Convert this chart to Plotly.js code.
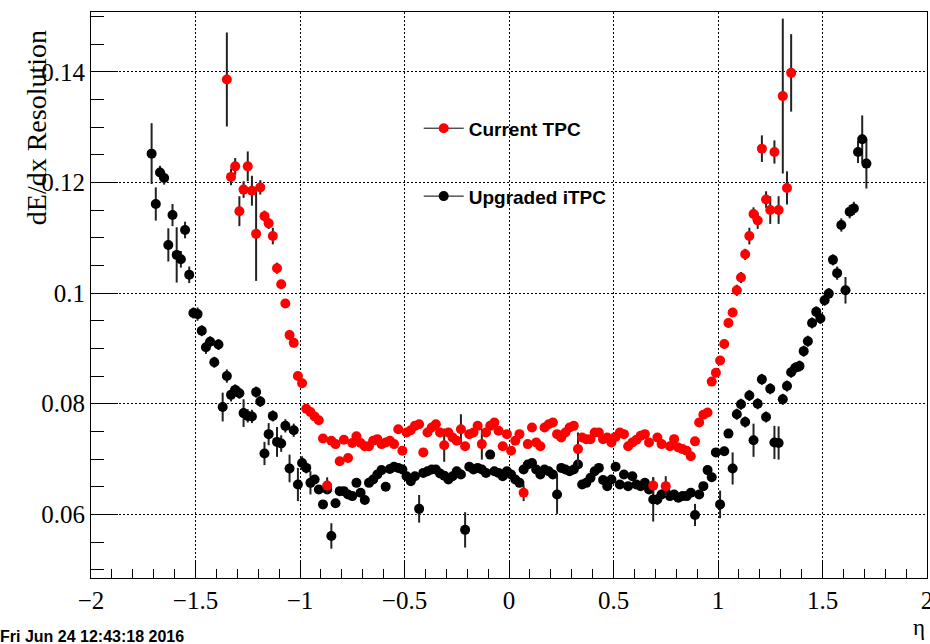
<!DOCTYPE html>
<html>
<head>
<meta charset="utf-8">
<script src="https://cdn.plot.ly/plotly-3.0.1.min.js"></script>
<style>html,body{margin:0;padding:0;background:#fff;}#chart{width:930px;height:644px;}</style>
</head>
<body>
<div id="chart"></div>
<script>
// Upgraded iTPC (black)
const blackEta = [
-1.71,-1.69,-1.67,-1.65,-1.63,-1.61,-1.59,-1.57,-1.55,-1.53,
-1.51,-1.49,-1.47,-1.45,-1.43,-1.41,-1.39,-1.37,-1.35,-1.33,
-1.31,-1.29,-1.27,-1.25,-1.23,-1.21,-1.19,-1.17,-1.15,-1.13,
-1.11,-1.09,-1.07,-1.05,-1.03,-1.01,-0.99,-0.97,-0.95,-0.93,
-0.91,-0.89,-0.87,-0.85,-0.83,-0.81,-0.79,-0.77,-0.75,-0.73,
-0.71,-0.69,-0.67,-0.65,-0.63,-0.61,-0.59,-0.57,-0.55,-0.53,
-0.51,-0.49,-0.47,-0.45,-0.43,-0.41,-0.39,-0.37,-0.35,-0.33,
-0.31,-0.29,-0.27,-0.25,-0.23,-0.21,-0.19,-0.17,-0.15,-0.13,
-0.11,-0.09,-0.07,-0.05,-0.03,-0.01,0.01,0.03,0.05,0.07,
0.09,0.11,0.13,0.15,0.17,0.19,0.21,0.23,0.25,0.27,
0.29,0.31,0.33,0.35,0.37,0.39,0.41,0.43,0.45,0.47,
0.49,0.51,0.53,0.55,0.57,0.59,0.61,0.63,0.65,0.67,
0.69,0.71,0.73,0.75,0.77,0.79,0.81,0.83,0.85,0.87,
0.89,0.91,0.93,0.95,0.97,0.99,1.01,1.03,1.05,1.07,
1.09,1.11,1.13,1.15,1.17,1.19,1.21,1.23,1.25,1.27,
1.29,1.31,1.33,1.35,1.37,1.39,1.41,1.43,1.45,1.47,
1.49,1.51,1.53,1.55,1.57,1.59,1.61,1.63,1.65,1.67,
1.69,1.71];
const blackRes = [
0.1252,0.1161,0.1218,0.1208,0.1087,0.1141,0.1069,0.1061,0.1114,0.1033,
0.0964,0.0962,0.0932,0.0902,0.0912,0.0875,0.0907,0.0794,0.0850,0.0816,
0.0825,0.0819,0.0783,0.0778,0.0777,0.0821,0.0804,0.0710,0.0745,0.0778,
0.0731,0.0728,0.0760,0.0683,0.0752,0.0654,0.0693,0.0684,0.0657,0.0663,
0.0645,0.0618,0.0645,0.0561,0.0620,0.0642,0.0642,0.0636,0.0633,0.0657,
0.0639,0.0626,0.0657,0.0663,0.0672,0.0680,0.0650,0.0682,0.0686,0.0684,
0.0681,0.0669,0.0660,0.0669,0.0610,0.0675,0.0678,0.0681,0.0681,0.0674,
0.0670,0.0663,0.0669,0.0678,0.0672,0.0572,0.0686,0.0681,0.0684,0.0681,
0.0675,0.0708,0.0678,0.0675,0.0669,0.0678,0.0672,0.0663,0.0657,0.0681,
0.0690,0.0693,0.0681,0.0672,0.0681,0.0678,0.0672,0.0636,0.0684,0.0681,
0.0678,0.0681,0.0690,0.0654,0.0657,0.0666,0.0678,0.0684,0.0662,0.0651,
0.0663,0.0686,0.0654,0.0672,0.0651,0.0669,0.0654,0.0651,0.0657,0.0645,
0.0627,0.0627,0.0636,0.0640,0.0633,0.0636,0.0630,0.0633,0.0633,0.0639,
0.0599,0.0636,0.0651,0.0680,0.0667,0.0712,0.0618,0.0714,0.0746,0.0683,
0.0781,0.0799,0.0767,0.0815,0.0734,0.0800,0.0844,0.0776,0.0827,0.0730,
0.0729,0.0808,0.0832,0.0857,0.0865,0.0868,0.0895,0.0913,0.0946,0.0966,
0.0954,0.0987,0.0999,0.1060,0.1036,0.1123,0.1005,0.1147,0.1153,0.1255,
0.1278,0.1234];
const blackErr = [
0.0055,0.0030,0.0012,0.0012,0.0030,0.0020,0.0050,0.0015,0.0015,0.0015,
0.0010,0.0012,0.0010,0.0012,0.0010,0.0010,0.0010,0.0026,0.0012,0.0012,
0.0010,0.0010,0.0025,0.0012,0.0012,0.0010,0.0010,0.0021,0.0020,0.0010,
0.0027,0.0015,0.0012,0.0025,0.0012,0.0030,0.0012,0.0010,0.0021,0.0008,
0.0008,0.0008,0.0008,0.0023,0.0008,0.0006,0.0006,0.0006,0.0006,0.0006,
0.0006,0.0006,0.0006,0.0006,0.0006,0.0006,0.0006,0.0006,0.0006,0.0006,
0.0006,0.0006,0.0006,0.0006,0.0025,0.0006,0.0006,0.0006,0.0006,0.0006,
0.0006,0.0006,0.0006,0.0006,0.0006,0.0032,0.0006,0.0006,0.0006,0.0006,
0.0006,0.0006,0.0006,0.0006,0.0006,0.0006,0.0006,0.0006,0.0006,0.0006,
0.0006,0.0006,0.0006,0.0006,0.0006,0.0006,0.0006,0.0035,0.0006,0.0006,
0.0006,0.0006,0.0006,0.0006,0.0006,0.0006,0.0006,0.0006,0.0006,0.0006,
0.0006,0.0006,0.0006,0.0006,0.0006,0.0006,0.0006,0.0006,0.0006,0.0006,
0.0040,0.0010,0.0006,0.0006,0.0006,0.0006,0.0006,0.0006,0.0006,0.0006,
0.0020,0.0006,0.0006,0.0008,0.0008,0.0008,0.0025,0.0008,0.0008,0.0029,
0.0010,0.0010,0.0010,0.0010,0.0030,0.0010,0.0010,0.0010,0.0010,0.0030,
0.0030,0.0010,0.0010,0.0010,0.0010,0.0010,0.0010,0.0010,0.0010,0.0010,
0.0010,0.0010,0.0010,0.0010,0.0012,0.0012,0.0024,0.0012,0.0012,0.0020,
0.0043,0.0045];

// Current TPC (red)
const redEta = [
-1.35,-1.33,-1.31,-1.29,-1.27,-1.25,-1.23,-1.21,-1.19,-1.17,
-1.15,-1.13,-1.11,-1.09,-1.07,-1.05,-1.03,-1.01,-0.99,-0.97,
-0.95,-0.93,-0.91,-0.89,-0.87,-0.85,-0.83,-0.81,-0.79,-0.77,
-0.75,-0.73,-0.71,-0.69,-0.67,-0.65,-0.63,-0.61,-0.59,-0.57,
-0.55,-0.53,-0.51,-0.49,-0.47,-0.45,-0.43,-0.41,-0.39,-0.37,
-0.35,-0.33,-0.31,-0.29,-0.27,-0.25,-0.23,-0.21,-0.19,-0.17,
-0.15,-0.13,-0.11,-0.09,-0.07,-0.05,-0.03,-0.01,0.01,0.03,
0.05,0.07,0.09,0.11,0.13,0.15,0.17,0.19,0.21,0.23,
0.25,0.27,0.29,0.31,0.33,0.35,0.37,0.39,0.41,0.43,
0.45,0.47,0.49,0.51,0.53,0.55,0.57,0.59,0.61,0.63,
0.65,0.67,0.69,0.71,0.73,0.75,0.77,0.79,0.81,0.83,
0.85,0.87,0.89,0.91,0.93,0.95,0.97,0.99,1.01,1.03,
1.05,1.07,1.09,1.11,1.13,1.15,1.17,1.19,1.21,1.23,
1.25,1.27,1.29,1.31,1.33,1.35];
const redRes = [
0.1386,0.1210,0.1229,0.1148,0.1187,0.1229,0.1185,0.1107,0.1191,0.1139,
0.1126,0.1103,0.1045,0.1016,0.0981,0.0924,0.0910,0.0850,0.0837,0.0791,
0.0785,0.0777,0.0770,0.0737,0.0652,0.0733,0.0727,0.0696,0.0735,0.0702,
0.0729,0.0741,0.0729,0.0723,0.0723,0.0733,0.0736,0.0727,0.0730,0.0733,
0.0727,0.0754,0.0715,0.0748,0.0752,0.0760,0.0763,0.0712,0.0748,0.0757,
0.0763,0.0748,0.0725,0.0748,0.0739,0.0733,0.0754,0.0723,0.0745,0.0748,
0.0760,0.0727,0.0748,0.0760,0.0766,0.0751,0.0723,0.0745,0.0715,0.0733,
0.0745,0.0639,0.0727,0.0757,0.0730,0.0723,0.0757,0.0763,0.0766,0.0745,
0.0739,0.0748,0.0757,0.0760,0.0718,0.0739,0.0736,0.0736,0.0748,0.0748,
0.0736,0.0739,0.0730,0.0740,0.0748,0.0745,0.0723,0.0730,0.0735,0.0742,
0.0745,0.0730,0.0652,0.0739,0.0727,0.0651,0.0723,0.0736,0.0721,0.0718,
0.0715,0.0705,0.0732,0.0766,0.0780,0.0784,0.0840,0.0856,0.0878,0.0908,
0.0946,0.0965,0.1005,0.1028,0.1070,0.1103,0.1143,0.1131,0.1261,0.1169,
0.1150,0.1255,0.1150,0.1356,0.1190,0.1398];
const redErr = [
0.0085,0.0015,0.0015,0.0027,0.0015,0.0027,0.0027,0.0085,0.0013,0.0010,
0.0010,0.0015,0.0010,0.0008,0.0008,0.0008,0.0008,0.0008,0.0008,0.0008,
0.0007,0.0007,0.0007,0.0007,0.0015,0.0007,0.0007,0.0007,0.0007,0.0007,
0.0007,0.0007,0.0007,0.0007,0.0007,0.0007,0.0007,0.0007,0.0007,0.0007,
0.0007,0.0007,0.0007,0.0007,0.0007,0.0007,0.0007,0.0007,0.0007,0.0007,
0.0007,0.0007,0.0030,0.0007,0.0007,0.0007,0.0027,0.0007,0.0007,0.0007,
0.0007,0.0028,0.0007,0.0007,0.0007,0.0007,0.0007,0.0007,0.0007,0.0007,
0.0007,0.0015,0.0007,0.0007,0.0007,0.0007,0.0007,0.0007,0.0007,0.0007,
0.0007,0.0007,0.0007,0.0007,0.0030,0.0007,0.0007,0.0007,0.0007,0.0007,
0.0007,0.0007,0.0007,0.0007,0.0007,0.0007,0.0007,0.0007,0.0007,0.0007,
0.0007,0.0007,0.0015,0.0007,0.0007,0.0018,0.0007,0.0007,0.0007,0.0007,
0.0007,0.0007,0.0007,0.0007,0.0007,0.0007,0.0008,0.0008,0.0008,0.0008,
0.0008,0.0008,0.0010,0.0010,0.0010,0.0015,0.0012,0.0015,0.0024,0.0015,
0.0025,0.0021,0.0025,0.0140,0.0030,0.0070];

const seriesNames = ['Current TPC', 'Upgraded iTPC'];
const xTitle = '\u03b7';
const yTitle = 'dE/dx Resolution';
const stamp = 'Fri Jun 24 12:43:18 2016';

const errStyle = {type:'data', visible:true, color:'#222', thickness:2, width:0};

const traces = [
  {x: blackEta, y: blackRes, type:'scatter', mode:'markers', showlegend:false,
   marker:{color:'#000000', size:10, symbol:'circle'},
   error_y: Object.assign({array: blackErr}, errStyle)},
  {x: redEta, y: redRes, type:'scatter', mode:'markers', showlegend:false,
   marker:{color:'#ff0000', size:10, symbol:'circle'},
   error_y: Object.assign({array: redErr}, errStyle)},
  {x:[null], y:[null], type:'scatter', mode:'lines+markers', name: seriesNames[0],
   legend:'legend', line:{color:'#000', width:1}, marker:{color:'#ff0000', size:10}},
  {x:[null], y:[null], type:'scatter', mode:'lines+markers', name: seriesNames[1],
   legend:'legend2', line:{color:'#000', width:1}, marker:{color:'#000000', size:10}}
];

const axisCommon = {
  ticks:'inside', tickcolor:'#000', tickwidth:1,
  showline:true, linecolor:'#000', linewidth:1, mirror:true,
  showgrid:true, gridcolor:'#000', gridwidth:1, griddash:'2px,2px',
  zeroline:false, ticklabeloverflow:'allow',
  tickfont:{family:'Liberation Serif, Times New Roman, serif', size:25, color:'#000'}
};

const legFont = {family:'Liberation Sans, Arial, sans-serif', size:19, color:'#000', weight:'bold'};

const layout = {
  width:930, height:644,
  margin:{l:91, r:3, t:12, b:66},
  paper_bgcolor:'#fff', plot_bgcolor:'#fff',
  showlegend:true,
  xaxis: Object.assign({}, axisCommon, {
    range:[-2, 2], tick0:-2, dtick:0.5, ticklen:18,
    minor:{dtick:0.1, ticks:'inside', ticklen:9, tickcolor:'#000', showgrid:false}
  }),
  yaxis: Object.assign({}, axisCommon, {
    range:[0.0485, 0.1508], tick0:0.06, dtick:0.02, ticklen:27,
    minor:{dtick:0.005, ticks:'inside', ticklen:13, tickcolor:'#000', showgrid:false}
  }),
  legend:{x:0.392, y:0.828, xanchor:'left', yanchor:'top', bgcolor:'rgba(0,0,0,0)',
          font:legFont, itemwidth:40, tracegroupgap:0},
  legend2:{x:0.392, y:0.708, xanchor:'left', yanchor:'top', bgcolor:'rgba(0,0,0,0)',
          font:legFont, itemwidth:40, tracegroupgap:0},
  annotations:[
    {text:yTitle, xref:'paper', yref:'paper', x:-0.0656, y:0.795, textangle:-90,
     showarrow:false, xanchor:'center', yanchor:'middle',
     font:{family:'Liberation Serif, Times New Roman, serif', size:28, color:'#000'}},
    {text:xTitle, xref:'paper', yref:'paper', x:0.990, y:-0.088,
     showarrow:false, xanchor:'center', yanchor:'middle',
     font:{family:'Liberation Serif, Times New Roman, serif', size:23, color:'#000'}},
    {text:'<b>'+stamp+'</b>', xref:'paper', yref:'paper', x:-0.1110, y:-0.1025,
     showarrow:false, xanchor:'left', yanchor:'middle',
     font:{family:'Liberation Sans, Arial, sans-serif', size:16, color:'#000'}}
  ]
};

Plotly.newPlot('chart', traces, layout, {displayModeBar:false, staticPlot:true});
</script>
</body>
</html>
